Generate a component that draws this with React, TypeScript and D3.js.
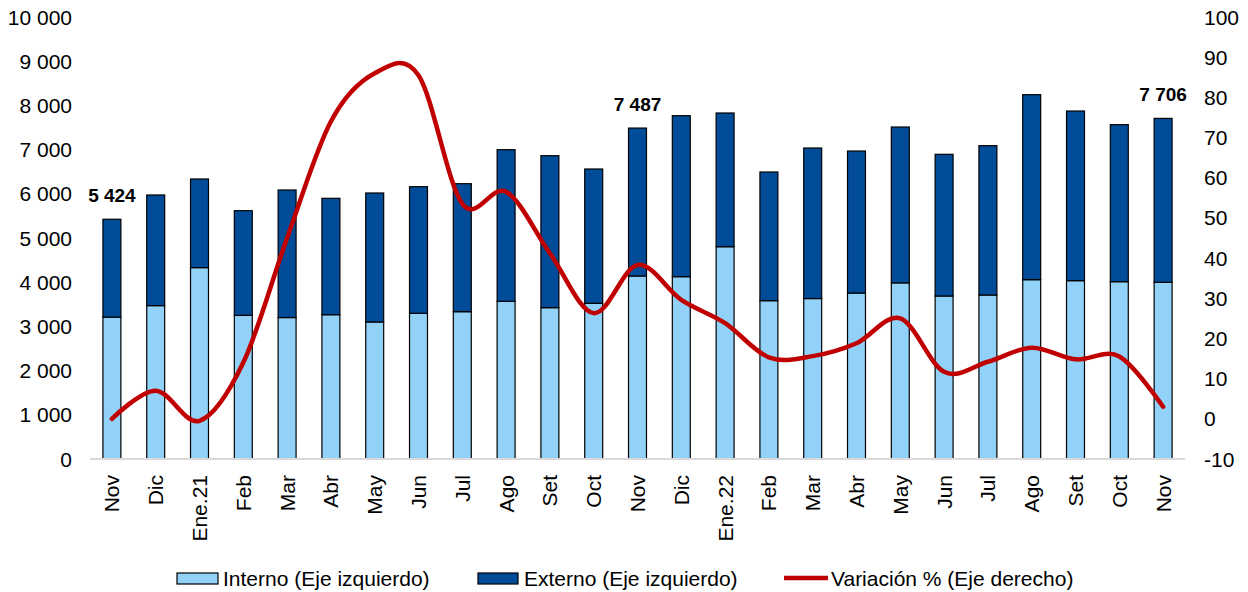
import { useMemo } from 'react';
import * as d3 from 'd3';

const categories = ['Nov', 'Dic', 'Ene.21', 'Feb', 'Mar', 'Abr', 'May', 'Jun', 'Jul', 'Ago', 'Set', 'Oct', 'Nov', 'Dic', 'Ene.22', 'Feb', 'Mar', 'Abr', 'May', 'Jun', 'Jul', 'Ago', 'Set', 'Oct', 'Nov'];
const interno = [3210, 3470, 4330, 3250, 3200, 3265, 3100, 3296, 3333, 3567, 3424, 3522, 4140, 4125, 4803, 3582, 3630, 3755, 3985, 3688, 3710, 4057, 4035, 4012, 3997];
const totals = [5424, 5973, 6335, 5618, 6086, 5898, 6018, 6161, 6229, 6998, 6862, 6561, 7487, 7767, 7828, 6493, 7036, 6968, 7511, 6893, 7089, 8243, 7873, 7564, 7706];
const variacion = [0, 7, -0.5, 14, 45, 74, 86, 85.5, 53.5, 56.5, 41.2, 26.3, 38.3, 29.6, 23.8, 15.3, 15.6, 18.8, 25, 11.7, 14.2, 17.7, 14.8, 15.5, 3];
const leftTicks = [0, 1000, 2000, 3000, 4000, 5000, 6000, 7000, 8000, 9000, 10000];
const rightTicks = [-10, 0, 10, 20, 30, 40, 50, 60, 70, 80, 90, 100];
const labelled = [0, 12, 24];

const W = 1248;
const H = 592;
const COL_INT = '#92D1F8';
const COL_EXT = '#004C98';
const COL_LINE = '#C00000';
const FONT = 'Liberation Sans, Arial, sans-serif';
const FS = 21;

const fmt = (v: number) => d3.format(',')(v).replace(/,/g, ' ');

export default function App() {
  const x = useMemo(
    () => d3.scaleBand<number>().domain(categories.map((_, i) => i)).range([90, 1185]).paddingInner(0.59).paddingOuter(0.295),
    []
  );
  const yL = d3.scaleLinear().domain([0, 10000]).range([459, 17]);
  const yR = d3.scaleLinear().domain([-10, 100]).range([459, 17]);
  const bw = x.bandwidth();
  const cx = (i: number) => (x(i) as number) + bw / 2;

  const line = d3.line<number>()
    .x((_, i) => cx(i))
    .y(d => yR(d))
    .curve(d3.curveCardinal.tension(0));

  return (
    <div style={{ position: 'absolute', left: 0, top: 0 }}>
      <svg width={W} height={H} style={{ display: 'block', fontFamily: FONT }}>
        <rect width={W} height={H} fill="#fff" />

        {/* left axis */}
        {leftTicks.map(t => (
          <text key={t} x={72} y={yL(t)} textAnchor="end" dominantBaseline="central" fontSize={FS} fill="#000">
            {fmt(t)}
          </text>
        ))}
        {/* right axis */}
        {rightTicks.map(t => (
          <text key={t} x={1204} y={yR(t)} textAnchor="start" dominantBaseline="central" fontSize={FS} fill="#000">
            {t}
          </text>
        ))}

        {/* bars */}
        {categories.map((_, i) => (
          <g key={i}>
            <rect x={x(i)} y={yL(interno[i])} width={bw} height={yL(0) - yL(interno[i])} fill={COL_INT} stroke="#000" strokeWidth={1.2} />
            <rect x={x(i)} y={yL(totals[i])} width={bw} height={yL(interno[i]) - yL(totals[i])} fill={COL_EXT} stroke="#000" strokeWidth={1.2} />
          </g>
        ))}

        <line x1={90} x2={1185} y1={yL(0)} y2={yL(0)} stroke="#D9D9D9" strokeWidth={2} />

        {/* variation line */}
        <path d={line(variacion) || ''} fill="none" stroke={COL_LINE} strokeWidth={4.5} strokeLinecap="round" strokeLinejoin="round" />

        {/* data labels */}
        {labelled.map(i => (
          <text key={i} x={cx(i)} y={yL(totals[i]) - 24} textAnchor="middle" dominantBaseline="central" fontSize={19} fontWeight="bold" fill="#000">
            {fmt(totals[i])}
          </text>
        ))}

        {/* category labels */}
        {categories.map((c, i) => (
          <text key={i} transform={`translate(${cx(i)},475) rotate(-90)`} textAnchor="end" dominantBaseline="central" fontSize={FS} fill="#000">
            {c}
          </text>
        ))}

        {/* legend */}
        <rect x={177} y={573} width={41} height={11} fill={COL_INT} stroke="#000" strokeWidth={1.2} />
        <text x={223} y={578} dominantBaseline="central" fontSize={FS}>Interno (Eje izquierdo)</text>
        <rect x={478} y={573} width={40} height={11} fill={COL_EXT} stroke="#000" strokeWidth={1.2} />
        <text x={524} y={578} dominantBaseline="central" fontSize={FS}>Externo (Eje izquierdo)</text>
        <line x1={784} x2={828} y1={578} y2={578} stroke={COL_LINE} strokeWidth={4.5} />
        <text x={831} y={578} dominantBaseline="central" fontSize={FS}>Variación % (Eje derecho)</text>
      </svg>
    </div>
  );
}
